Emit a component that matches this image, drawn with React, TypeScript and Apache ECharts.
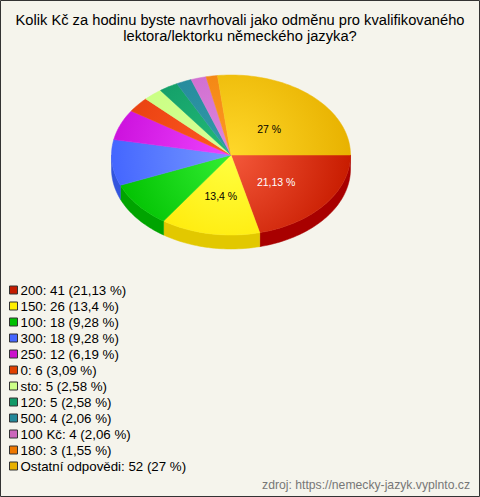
import React, { useEffect, useRef } from 'react';
import * as echarts from 'echarts';

const titleText = 'Kolik Kč za hodinu byste navrhovali jako odměnu pro kvalifikovaného\nlektora/lektorku německého jazyka?';
const sourceText = 'zdroj: https://nemecky-jazyk.vyplnto.cz';

const categories = ['200', '150', '100', '300', '250', '0', 'sto', '120', '500', '100 Kč', '180', 'Ostatní odpovědi'];
const counts = [41, 26, 18, 18, 12, 6, 5, 5, 4, 4, 3, 52];
const percents = [21.13, 13.4, 9.28, 9.28, 6.19, 3.09, 2.58, 2.58, 2.06, 2.06, 1.55, 27];

const legendColors = ['#c41c00', '#ffee00', '#00c000', '#4466ff', '#cc11cc', '#e04000', '#ccff88', '#119966', '#228899', '#cc66bb', '#ee7700', '#e8b000'];
const topLight = ['#f4583a', '#ffff40', '#33ee33', '#7799ff', '#ee44ff', '#ff5a22', '#d8ff99', '#22bb77', '#3399aa', '#dd88dd', '#ff9922', '#ffd82a'];
const topDark = ['#c81c00', '#ffe600', '#00c000', '#4466ff', '#cc11dd', '#e84010', '#c8ff80', '#119966', '#228899', '#cc66cc', '#ee8010', '#e8b200'];
const sideColors = ['#a80000', '#e2c800', '#00a400', '#3355dd', '#aa00bb', '#c03000', '#a8dd60', '#007744', '#116677', '#aa44aa', '#cc6600', '#c89600'];
const labelColors = ['#ffffff', '#000000', '#000000', '#000000', '#000000', '#000000', '#000000', '#000000', '#000000', '#000000', '#000000', '#000000'];

const FONT = '"Liberation Sans", Arial, sans-serif';
const CX = 231;
const CY = 155;
const RX = 119.5;
const RY = 80;
const DEPTH = 14;
const LABEL_R = 0.48;
const LABEL_DY = 3;

const fmtPct = (p: number) => String(p).replace('.', ',') + ' %';

export default function App() {
  const ref = useRef<HTMLDivElement>(null);

  useEffect(() => {
    if (!ref.current) return;
    const chart = echarts.init(ref.current, undefined, { renderer: 'svg' });
    const total = counts.reduce((a, b) => a + b, 0);
    const cum: number[] = [];
    let acc = 0;
    for (const c of counts) {
      cum.push(acc);
      acc += c;
    }

    const arcPts = (a0: number, a1: number, dy: number) => {
      const pts: number[][] = [];
      const n = Math.max(2, Math.ceil((a1 - a0) / (Math.PI / 120)));
      for (let k = 0; k <= n; k++) {
        const a = a0 + ((a1 - a0) * k) / n;
        pts.push([CX + RX * Math.cos(a), CY + RY * Math.sin(a) + dy]);
      }
      return pts;
    };

    const renderItem = (params: any, api: any) => {
      const i = params.dataIndex;
      const v = api.value(0);
      const a0 = (cum[i] / total) * Math.PI * 2;
      const a1 = ((cum[i] + v) / total) * Math.PI * 2;
      const children: any[] = [];
      const s = Math.max(a0, 0);
      const e = Math.min(a1, Math.PI);
      if (e > s) {
        const top = arcPts(s, e, 0);
        const bottom = arcPts(s, e, DEPTH).reverse();
        children.push({
          type: 'polygon',
          shape: { points: top.concat(bottom) },
          style: { fill: sideColors[i], stroke: sideColors[i], lineWidth: 0.5 },
        });
      }
      const grad = {
        type: 'radial',
        x: CX,
        y: CY,
        r: RX,
        global: true,
        colorStops: [
          { offset: 0, color: topLight[i] },
          { offset: 1, color: topDark[i] },
        ],
      };
      children.push({
        type: 'polygon',
        shape: { points: [[CX, CY]].concat(arcPts(a0, a1, 0)) },
        style: { fill: grad, stroke: grad, lineWidth: 0.5 },
      });
      if (percents[i] > 10) {
        const m = (a0 + a1) / 2;
        children.push({
          type: 'text',
          x: CX + RX * LABEL_R * Math.cos(m),
          y: CY + RY * LABEL_R * Math.sin(m) + LABEL_DY,
          style: {
            text: fmtPct(percents[i]),
            fill: labelColors[i],
            font: `10.5px ${FONT}`,
            align: 'center',
            verticalAlign: 'middle',
          },
        });
      }
      return { type: 'group', children };
    };

    chart.setOption({
      animation: false,
      backgroundColor: '#f5f4ec',
      legend: {
        orient: 'vertical',
        left: 9,
        top: 283,
        padding: 0,
        itemWidth: 8,
        itemHeight: 8,
        itemGap: 2,
        icon: 'rect',
        selectedMode: false,
        data: categories,
        itemStyle: { borderColor: '#333', borderWidth: 1 },
        textStyle: { fontFamily: FONT, fontSize: 13.3, color: '#000', lineHeight: 14, padding: [0, 0, 0, -2] },
        formatter: (name: string) => {
          const i = categories.indexOf(name);
          return `${name}: ${counts[i]} (${fmtPct(percents[i])})`;
        },
      },
      graphic: [
        {
          type: 'text',
          x: 240,
          y: 12,
          style: {
            text: titleText,
            font: `14.7px ${FONT}`,
            fill: '#000',
            align: 'center',
            verticalAlign: 'top',
            lineHeight: 16,
          },
        },
        {
          type: 'text',
          x: 470,
          y: 485,
          style: {
            text: sourceText,
            font: `12.2px ${FONT}`,
            fill: '#777',
            align: 'right',
            verticalAlign: 'middle',
          },
        },
        {
          type: 'rect',
          shape: { x: 0.5, y: 0.5, width: 479, height: 496 },
          style: { fill: 'none', stroke: '#333', lineWidth: 1 },
          z: 100,
        },
      ],
      series: [
        {
          type: 'custom',
          name: 'pie3d',
          coordinateSystem: 'none',
          renderItem,
          silent: true,
          data: counts.map((c, i) => ({ value: c, name: categories[i] })),
        },
        {
          type: 'pie',
          name: 'legendProvider',
          center: [-200, -200],
          radius: 1,
          silent: true,
          label: { show: false },
          labelLine: { show: false },
          data: counts.map((c, i) => ({ value: c, name: categories[i], itemStyle: { color: legendColors[i] } })),
        },
      ],
    });
    return () => chart.dispose();
  }, []);

  return <div ref={ref} style={{ position: 'fixed', left: 0, top: 0, width: 480, height: 497 }} />;
}
